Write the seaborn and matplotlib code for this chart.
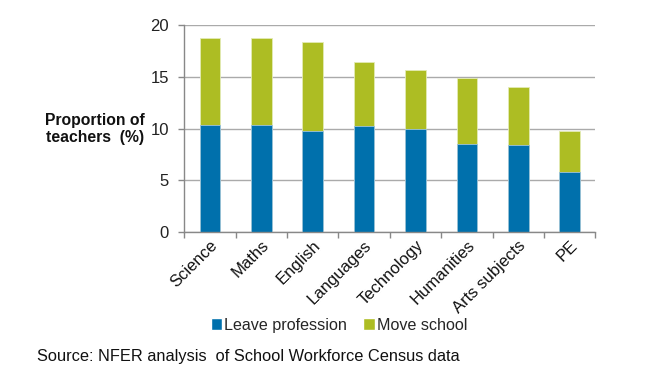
import matplotlib
matplotlib.use("Agg")
import matplotlib.pyplot as plt
import seaborn as sns
import pandas as pd
from matplotlib.patches import Patch

categories = ["Science", "Maths", "English", "Languages", "Technology", "Humanities", "Arts subjects", "PE"]
leave_profession = [10.3, 10.3, 9.8, 10.2, 10.0, 8.5, 8.4, 5.8]
move_school = [8.4, 8.4, 8.5, 6.2, 5.6, 6.4, 5.6, 4.0]
yticks = [0, 5, 10, 15, 20]

BLUE = "#0070AC"
GREEN = "#ADBD23"

sns.set_theme(style="white")
plt.rcParams["font.family"] = ["Liberation Sans", "DejaVu Sans"]

df = pd.DataFrame({"cat": categories, "leave": leave_profession, "move": move_school})
df["total"] = df["leave"] + df["move"]

fig = plt.figure(figsize=(6.6, 3.82), dpi=100)
ax = fig.add_axes([0.279, 0.392, 0.623, 0.543])

sns.barplot(data=df, x="cat", y="total", color=GREEN, saturation=1, width=0.4, ax=ax,
            edgecolor="#E3EBB5", linewidth=0.6)
sns.barplot(data=df, x="cat", y="leave", color=BLUE, saturation=1, width=0.4, ax=ax,
            edgecolor="#9CC3DD", linewidth=0.6)

ax.set_ylim(0, 20)
ax.set_xlim(-0.5, len(categories) - 0.5)
ax.set_yticks(yticks)
ax.set_yticklabels([str(t) for t in yticks], fontsize=12, color="#222222")
ax.yaxis.grid(True, color="#AAAAAA", linewidth=1)
ax.set_axisbelow(True)
for s in ["top", "right"]:
    ax.spines[s].set_visible(False)
for s in ["bottom", "left"]:
    ax.spines[s].set_color("#888888")
    ax.spines[s].set_linewidth(1)

ax.set_xticks(range(len(categories)))
ax.set_xticklabels(categories, rotation=45, ha="right", rotation_mode="anchor",
                   fontsize=12, color="#111111")
ax.tick_params(axis="x", which="major", length=0, pad=4)
ax.set_xticks([i - 0.5 for i in range(len(categories) + 1)], minor=True)
ax.tick_params(axis="x", which="minor", bottom=True, length=4, color="#888888", width=1, direction="out")
ax.tick_params(axis="y", which="major", left=True, length=4, color="#888888", width=1,
               direction="out", pad=7)

ax.set_xlabel("")
ax.set_ylabel("")
fig.text(0.144, 0.662, "Proportion of\nteachers  (%)", ha="center", va="center",
         fontsize=11.3, fontweight="bold", color="#111111", linespacing=1.2)

handles = [Patch(facecolor=BLUE, label="Leave profession"),
           Patch(facecolor=GREEN, label="Move school")]
fig.legend(handles=handles, loc="center", bbox_to_anchor=(0.514, 0.149), ncol=2,
           frameon=False, fontsize=11.6, handlelength=0.7, handleheight=0.7,
           handletextpad=0.15, columnspacing=1.0)

fig.text(0.056, 0.066, "Source: NFER analysis  of School Workforce Census data",
         ha="left", va="center", fontsize=11.8, color="#111111")

fig.savefig("out.png", dpi=100)
